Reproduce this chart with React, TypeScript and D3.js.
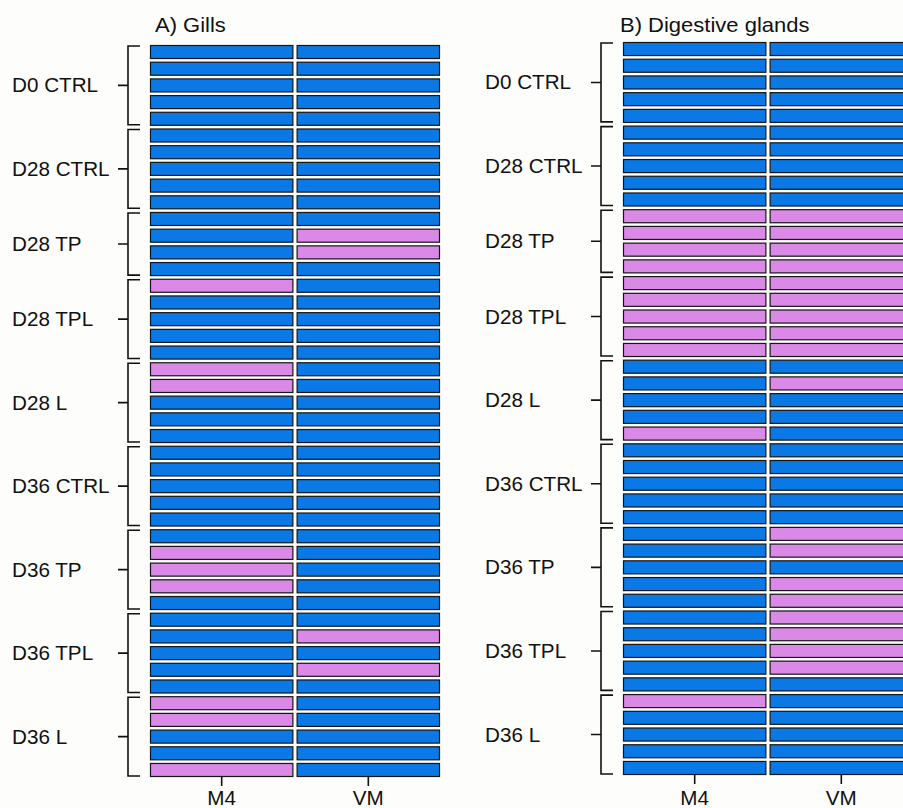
import React from 'react'
import * as d3 from 'd3'

const groups = ['D0 CTRL', 'D28 CTRL', 'D28 TP', 'D28 TPL', 'D28 L', 'D36 CTRL', 'D36 TP', 'D36 TPL', 'D36 L']
const groupSizes = [5, 5, 4, 5, 5, 5, 5, 5, 5]
const columns = ['M4', 'VM']

// 1 = pink (positive), 0 = blue, one entry per individual, top to bottom
const gillsM4 = [0,0,0,0,0, 0,0,0,0,0, 0,0,0,0, 1,0,0,0,0, 1,1,0,0,0, 0,0,0,0,0, 0,1,1,1,0, 0,0,0,0,0, 1,1,0,0,1]
const gillsVM = [0,0,0,0,0, 0,0,0,0,0, 0,1,1,0, 0,0,0,0,0, 0,0,0,0,0, 0,0,0,0,0, 0,0,0,0,0, 0,1,0,1,0, 0,0,0,0,0]
const digM4 = [0,0,0,0,0, 0,0,0,0,0, 1,1,1,1, 1,1,1,1,1, 0,0,0,0,1, 0,0,0,0,0, 0,0,0,0,0, 0,0,0,0,0, 1,0,0,0,0]
const digVM = [0,0,0,0,0, 0,0,0,0,0, 1,1,1,1, 1,1,1,1,1, 0,1,0,0,0, 0,0,0,0,0, 1,1,0,1,1, 1,1,1,1,0, 0,0,0,0,0]

const panels = [
  { title: 'A) Gills', values: [gillsM4, gillsVM], labelX: 12, titleX: 155, gridX: 150, top: 45, bottom: 777 },
  { title: 'B) Digestive glands', values: [digM4, digVM], labelX: 485, titleX: 620, gridX: 623, top: 42, bottom: 775 },
]

const BLUE = '#0a79e6'
const PINK = '#da8ae6'
const FONT = '"Liberation Sans", Arial, Helvetica, sans-serif'

// the figure's lettering is a bit wider than Arial, so stretch it horizontally
function Label({ x, y, children, anchor = 'start', dy, size = 19.5, sx = 1.06 }: any) {
  return (
    <text transform={`translate(${x},${y}) scale(${sx},1)`} dy={dy} textAnchor={anchor}
      fontSize={size} fontFamily={FONT} fill="#111">{children}</text>
  )
}

function Panel({ p }: { p: typeof panels[0] }) {
  const nRows = d3.sum(groupSizes)
  const y = d3.scaleBand<number>().domain(d3.range(nRows)).range([p.top, p.bottom]).paddingInner(0.16).paddingOuter(0)
  const x = d3.scaleBand<string>().domain(columns).range([p.gridX, p.gridX + 290]).paddingInner(0.022)
  const color = d3.scaleOrdinal<number, string>().domain([0, 1]).range([BLUE, PINK])
  const starts = d3.cumsum([0, ...groupSizes])
  const bx = p.gridX - 22
  return (
    <g>
      <Label x={p.titleX} y={32} size={20} sx={1.1}>{p.title}</Label>
      {columns.map((c, ci) =>
        p.values[ci].map((v, r) => (
          <rect key={c + r} x={x(c)! + 0.5} y={y(r)! + 0.5} width={x.bandwidth() - 1} height={y.bandwidth() - 1}
            fill={color(v)} stroke="#151515" strokeWidth={1.2} />
        ))
      )}
      {groups.map((g, gi) => {
        const y0 = y(starts[gi])! + 1
        const y1 = y(starts[gi] + groupSizes[gi] - 1)! + y.bandwidth() - 1
        const cy = (y0 + y1) / 2
        return (
          <g key={g}>
            <path d={`M${bx + 12},${y0}H${bx}V${y1}H${bx + 12}M${bx - 10},${cy}H${bx}`} fill="none" stroke="#111" strokeWidth={1.6} />
            <Label x={p.labelX} y={cy} dy="0.36em">{g}</Label>
          </g>
        )
      })}
      {columns.map(c => {
        const cx = x(c)! + x.bandwidth() / 2
        return (
          <g key={c}>
            <line x1={cx} x2={cx} y1={p.bottom} y2={p.bottom + 9} stroke="#111" strokeWidth={1.6} />
            <Label x={cx} y={805} anchor="middle">{c}</Label>
          </g>
        )
      })}
    </g>
  )
}

export default function App() {
  return (
    <svg width={903} height={808} style={{ position: 'absolute', left: 0, top: 0, background: '#fdfdfb' }}>
      {panels.map(p => <Panel key={p.title} p={p} />)}
    </svg>
  )
}
